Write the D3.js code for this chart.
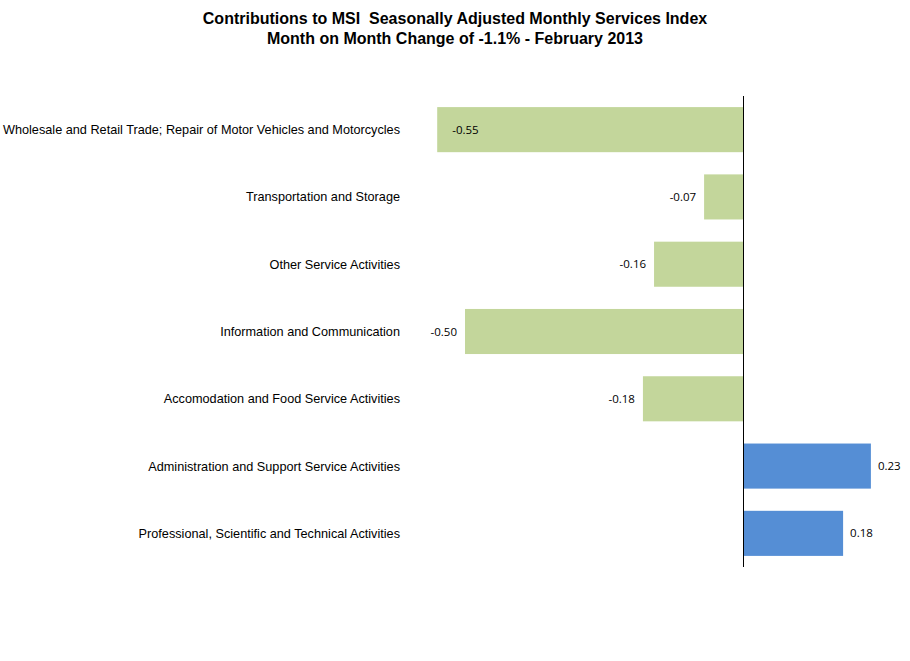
<!DOCTYPE html>
<html>
<head>
<meta charset="utf-8">
<script src="https://cdn.jsdelivr.net/npm/d3@7"></script>
<style>
  body { margin: 0; background: #fff; }
  svg { display: block; }
</style>
</head>
<body>
<svg id="chart"></svg>
<script>
const titleLines = [
    "Contributions to MSI  Seasonally Adjusted Monthly Services Index",
    "Month on Month Change of -1.1% - February 2013"
];
const categories = [
    "Wholesale and Retail Trade; Repair of Motor Vehicles and Motorcycles",
    "Transportation and Storage",
    "Other Service Activities",
    "Information and Communication",
    "Accomodation and Food Service Activities",
    "Administration and Support Service Activities",
    "Professional, Scientific and Technical Activities"
];
const values = [-0.55, -0.07, -0.16, -0.50, -0.18, 0.23, 0.18];

const width = 910, height = 661;
const negColor = "#c3d69b";
const posColor = "#558ed5";

const svg = d3.select("#chart")
    .attr("width", width)
    .attr("height", height);

// title (keep the double space after MSI)
svg.append("g")
    .selectAll("text")
    .data(titleLines)
    .join("text")
    .attr("x", 455)
    .attr("y", (d, i) => 24 + i * 20)
    .attr("text-anchor", "middle")
    .style("white-space", "pre")
    .style("font-family", "'Liberation Sans', Arial, sans-serif")
    .style("font-weight", "bold")
    .style("font-size", "16px")
    .text(d => d);

const x = d3.scaleLinear()
    .domain([-0.6, 0.28])
    .range([409.4, 898.7]);

const y = d3.scaleBand()
    .domain(categories)
    .range([96, 567])
    .paddingInner(0.33)
    .paddingOuter(0.165);

const plot = svg.append("g");

plot.selectAll("rect")
    .data(values)
    .join("rect")
    .attr("x", d => x(Math.min(0, d)))
    .attr("y", (d, i) => y(categories[i]))
    .attr("width", d => Math.abs(x(d) - x(0)))
    .attr("height", y.bandwidth())
    .attr("fill", d => d < 0 ? negColor : posColor);

// zero axis line
const x0 = Math.round(x(0)) + 0.5;
plot.append("line")
    .attr("x1", x0).attr("x2", x0)
    .attr("y1", y.range()[0]).attr("y2", y.range()[1])
    .attr("stroke", "#000")
    .attr("stroke-width", 1)
    .attr("shape-rendering", "crispEdges");

// category labels
plot.selectAll("text.cat")
    .data(categories)
    .join("text")
    .attr("class", "cat")
    .attr("x", 400)
    .attr("y", d => y(d) + y.bandwidth() / 2)
    .attr("dy", "0.35em")
    .attr("text-anchor", "end")
    .style("font-family", "'Liberation Sans', Arial, sans-serif")
    .style("font-size", "12.7px")
    .attr("fill", "#000")
    .text(d => d);

// value labels - outside the bar end, inside if there is no room
const fmt = v => v.toFixed(2);
const labels = plot.selectAll("text.val")
    .data(values)
    .join("text")
    .attr("class", "val")
    .attr("y", (d, i) => y(categories[i]) + y.bandwidth() / 2)
    .attr("dy", "0.35em")
    .style("font-family", "'Open Sans', 'Noto Sans', sans-serif")
    .style("font-size", "11.5px")
    .attr("fill", "#000")
    .text(d => fmt(d));

labels.each(function (d) {
    const t = d3.select(this);
    const w = this.getComputedTextLength();
    if (d >= 0) {
        t.attr("x", x(d) + 7).attr("text-anchor", "start");
    } else if (x(d) - 8 - w < x.range()[0]) {
        t.attr("x", x(d) + 15).attr("text-anchor", "start");
    } else {
        t.attr("x", x(d) - 8).attr("text-anchor", "end");
    }
});
</script>
</body>
</html>
